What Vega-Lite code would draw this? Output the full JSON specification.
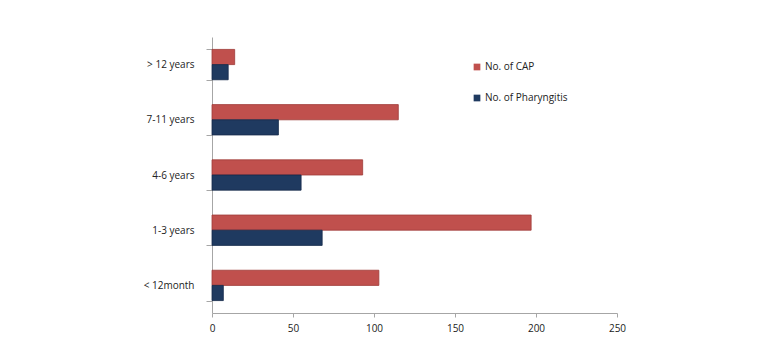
{
  "$schema": "https://vega.github.io/schema/vega-lite/v6.json",
  "width": 405,
  "height": 276,
  "autosize": {"type": "none"},
  "padding": {"left": 212, "top": 37, "right": 162, "bottom": 44},
  "background": "white",
  "config": {
    "view": {"stroke": null},
    "font": "Open Sans",
    "axis": {"domainColor": "#a6a6a6", "tickColor": "#a6a6a6", "labelColor": "#222222", "labelFontSize": 10, "grid": false, "title": null}
  },
  "data": {
    "values": [
      {"age": "> 12 years", "series": "No. of  CAP", "value": 14},
      {"age": "> 12 years", "series": "No. of  Pharyngitis", "value": 10},
      {"age": "7-11 years", "series": "No. of  CAP", "value": 115},
      {"age": "7-11 years", "series": "No. of  Pharyngitis", "value": 41},
      {"age": "4-6 years", "series": "No. of  CAP", "value": 93},
      {"age": "4-6 years", "series": "No. of  Pharyngitis", "value": 55},
      {"age": "1-3 years", "series": "No. of  CAP", "value": 197},
      {"age": "1-3 years", "series": "No. of  Pharyngitis", "value": 68},
      {"age": "< 12month", "series": "No. of  CAP", "value": 103},
      {"age": "< 12month", "series": "No. of  Pharyngitis", "value": 7}
    ]
  },
  "mark": {"type": "bar", "strokeWidth": 0.8},
  "encoding": {
    "y": {
      "field": "age", "type": "nominal",
      "sort": ["> 12 years", "7-11 years", "4-6 years", "1-3 years", "< 12month"],
      "scale": {"paddingInner": 0.45, "paddingOuter": 0.225},
      "axis": {"tickBand": "extent", "tickSize": 6, "labelPadding": 12, "domainWidth": 1}
    },
    "yOffset": {
      "field": "series", "type": "nominal",
      "sort": ["No. of  CAP", "No. of  Pharyngitis"],
      "scale": {"paddingInner": 0, "paddingOuter": 0}
    },
    "x": {
      "field": "value", "type": "quantitative",
      "scale": {"domain": [0, 250], "nice": false},
      "axis": {"values": [0, 50, 100, 150, 200, 250], "tickSize": 4, "labelPadding": 6, "labelFlush": false}
    },
    "color": {
      "field": "series", "type": "nominal",
      "scale": {"domain": ["No. of  CAP", "No. of  Pharyngitis"], "range": ["#c0504d", "#1f3a60"]},
      "legend": {
        "orient": "none", "legendX": 260, "legendY": 25, "title": null,
        "symbolType": "square", "symbolSize": 45, "rowPadding": 21,
        "labelFontSize": 10, "labelColor": "#222222", "labelOffset": 3,
        "symbolStrokeWidth": 0
      }
    },
    "stroke": {
      "field": "series", "type": "nominal",
      "scale": {"domain": ["No. of  CAP", "No. of  Pharyngitis"], "range": ["#9e3b38", "#15294a"]},
      "legend": null
    }
  }
}
